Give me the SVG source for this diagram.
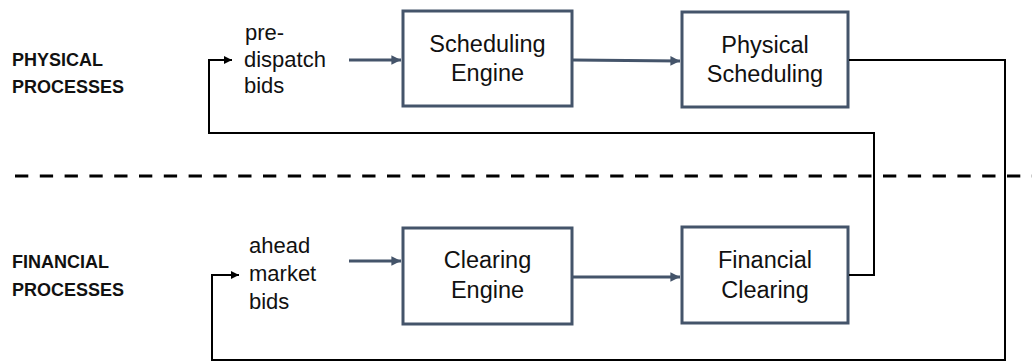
<svg xmlns="http://www.w3.org/2000/svg" width="1032" height="362" viewBox="0 0 1032 362">
  <style>
    .box { fill: #ffffff; stroke: #44546A; stroke-width: 3; }
    .btxt { font-family: "Liberation Sans", Arial, sans-serif; font-size: 23.5px; fill: #111; text-anchor: middle; }
    .side { font-family: "Liberation Sans", Arial, sans-serif; font-size: 22px; fill: #111; }
    .lbl { font-family: "Liberation Sans", Arial, sans-serif; font-size: 18px; font-weight: bold; fill: #111; }
    .flow { fill: none; stroke: #44546A; stroke-width: 3; marker-end: url(#sa); }
    .fb { fill: none; stroke: #000; stroke-width: 2; marker-end: url(#ba); }
  </style>
  <defs>
    <marker id="sa" viewBox="0 0 10 10" refX="10" refY="5" markerWidth="3.8" markerHeight="3.2" orient="auto" markerUnits="strokeWidth">
      <path d="M0,0 L10,5 L0,10 z" fill="#44546A"/>
    </marker>
    <marker id="ba" viewBox="0 0 10 10" refX="10" refY="5" markerWidth="4.5" markerHeight="4" orient="auto" markerUnits="strokeWidth">
      <path d="M0,0 L10,5 L0,10 z" fill="#000"/>
    </marker>
  </defs>

  <g id="divider">
    <line x1="15" y1="176" x2="1032" y2="176" stroke="#000" stroke-width="3" stroke-dasharray="13.3 11.5"/>
  </g>

  <g id="label-physical">
    <text class="lbl" x="12" y="66">PHYSICAL</text>
    <text class="lbl" x="12" y="93">PROCESSES</text>
  </g>
  <g id="label-financial">
    <text class="lbl" x="12" y="268">FINANCIAL</text>
    <text class="lbl" x="12" y="296">PROCESSES</text>
  </g>

  <g id="predispatch-bids">
    <text class="side" x="245" y="40">pre-</text>
    <text class="side" x="244" y="67">dispatch</text>
    <text class="side" x="244" y="93">bids</text>
  </g>
  <g id="ahead-market-bids">
    <text class="side" x="249" y="253">ahead</text>
    <text class="side" x="249" y="281">market</text>
    <text class="side" x="249" y="309">bids</text>
  </g>

  <g id="scheduling-engine">
    <rect class="box" x="403" y="11" width="169" height="95"/>
    <text class="btxt" x="487.5" y="52">Scheduling</text>
    <text class="btxt" x="487.5" y="81">Engine</text>
  </g>
  <g id="physical-scheduling">
    <rect class="box" x="682" y="12" width="166" height="95"/>
    <text class="btxt" x="765" y="53">Physical</text>
    <text class="btxt" x="765" y="82">Scheduling</text>
  </g>
  <g id="clearing-engine">
    <rect class="box" x="403" y="228" width="169" height="96"/>
    <text class="btxt" x="487.5" y="268">Clearing</text>
    <text class="btxt" x="487.5" y="298">Engine</text>
  </g>
  <g id="financial-clearing">
    <rect class="box" x="682" y="227" width="166" height="96"/>
    <text class="btxt" x="765" y="268">Financial</text>
    <text class="btxt" x="765" y="298">Clearing</text>
  </g>

  <g id="connectors">
    <path class="flow" d="M349,60 L401,60"/>
    <path class="flow" d="M573,60 L680,61"/>
    <path class="flow" d="M349,261 L401,261"/>
    <path class="flow" d="M573,277 L680,277"/>
    <path class="fb" d="M849,60 L1005,60 L1005,360 L212,360 L212,275 L239,275"/>
    <path class="fb" d="M849,275 L874,275 L874,133 L209,133 L209,60 L232,60"/>
  </g>
</svg>
